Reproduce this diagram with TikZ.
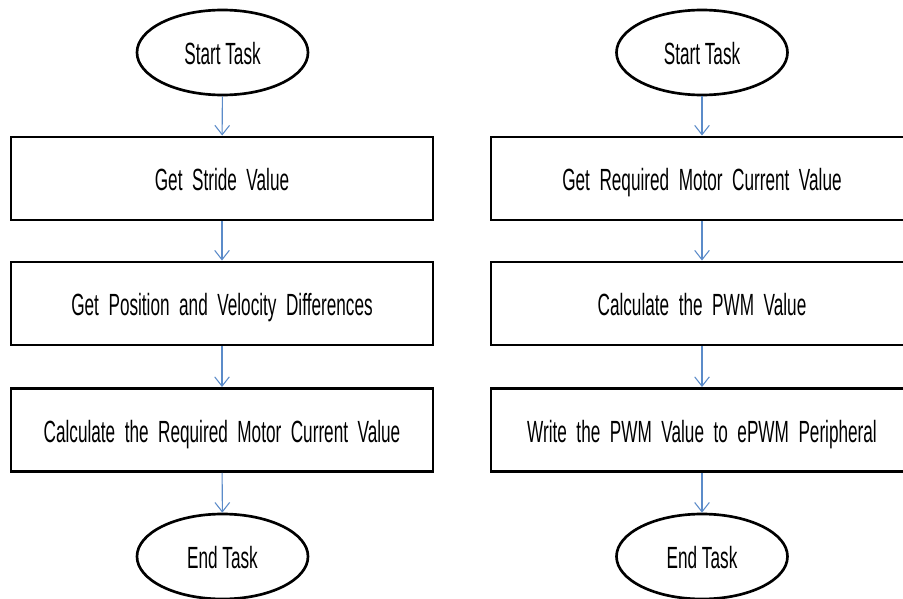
\documentclass[tikz,border=0pt]{standalone}
\usepackage{fontspec}
\setmainfont{Liberation Sans}[FakeStretch=0.56]
\usetikzlibrary{shapes.geometric,arrows.meta}
\begin{document}
\begin{tikzpicture}[x=0.75pt,y=-0.75pt,
  every node/.style={font=\fontsize{23pt}{26pt}\selectfont, text=black, text height=18pt, text depth=0pt},
  terminal/.style={ellipse, draw=black, line width=2pt, minimum width=171*0.75pt, minimum height=85*0.75pt, inner sep=0pt},
  stepbox/.style={rectangle, draw=black, line width=2.2pt, minimum width=422*0.75pt, minimum height=83*0.75pt, inner sep=0pt},
  flow/.style={draw={rgb,255:red,91;green,139;blue,201}, line width=0.8pt, -{Straight Barb[length=7pt,width=11pt,line width=0.8pt]}}]
\useasboundingbox (0,0) rectangle (903,599);
\clip (0,0) rectangle (903,599);
% left column
\node[terminal] (ls) at (222.5,52.5) {Start Task};
\node[stepbox] (l1) at (222,178.5) {Get~ Stride~ Value};
\node[stepbox] (l2) at (222,303.5) {Get~ Position~ and~ Velocity~ Differences};
\node[stepbox] (l3) at (222,430) {Calculate~ the~ Required~ Motor~ Current~ Value};
\node[terminal] (le) at (222.5,556.5) {End Task};
% right column
\node[terminal] (rs) at (702,52.5) {Start Task};
\node[stepbox] (r1) at (702,178.5) {Get~ Required~ Motor~ Current~ Value};
\node[stepbox] (r2) at (702,303.5) {Calculate~ the~ PWM~ Value};
\node[stepbox] (r3) at (702,430) {Write~ the~ PWM~ Value~ to~ ePWM~ Peripheral};
\node[terminal] (re) at (702,556.5) {End Task};
% connectors
\draw[flow] (ls) -- (l1);
\draw[flow] (l1) -- (l2);
\draw[flow] (l2) -- (l3);
\draw[flow] (l3) -- (le);
\draw[flow] (rs) -- (r1);
\draw[flow] (r1) -- (r2);
\draw[flow] (r2) -- (r3);
\draw[flow] (r3) -- (re);
\end{tikzpicture}
\end{document}
